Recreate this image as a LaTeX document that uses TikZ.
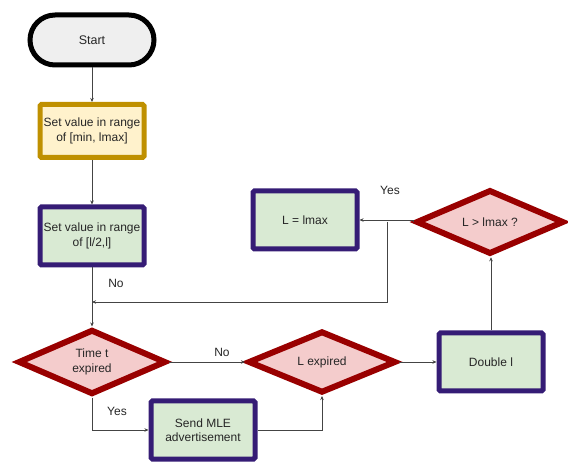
\documentclass[tikz,border=0pt]{standalone}
\usepackage{fontspec}
\setmainfont{Liberation Sans}
\usetikzlibrary{shapes.geometric,arrows.meta}
\definecolor{gold}{HTML}{BF9000}
\definecolor{goldfill}{HTML}{FFF2CC}
\definecolor{purp}{HTML}{351C75}
\definecolor{greenfill}{HTML}{D9EAD3}
\definecolor{dred}{HTML}{990000}
\definecolor{redfill}{HTML}{F4CCCC}
\definecolor{startfill}{HTML}{EFEFEF}
\definecolor{txt}{HTML}{262626}
\definecolor{conn}{HTML}{444444}
\tikzset{
  base/.style={font=\fontsize{12}{14.5}\selectfont, text=txt, align=center, inner sep=2pt},
  startbox/.style={base, draw=black, fill=startfill, line width=5pt, rounded corners=25pt,
    minimum width=124pt, minimum height=50pt, font=\fontsize{12.5}{15}\selectfont},
  goldbox/.style={base, draw=gold, fill=goldfill, line width=5pt, rounded corners=1.5pt,
    minimum width=104pt, minimum height=53pt},
  greenbox/.style={base, draw=purp, fill=greenfill, line width=5pt, rounded corners=1.5pt,
    minimum width=104pt, minimum height=58pt},
  decide/.style={base, diamond, draw=dred, fill=redfill, line width=6pt,
    minimum width=148pt, minimum height=62pt, inner sep=0pt},
  conn/.style={draw=conn, line width=0.8pt, -{Stealth[length=4pt,width=3.5pt]}},
  lbl/.style={font=\fontsize{12}{14}\selectfont, text=txt, inner sep=0pt}
}
\begin{document}
\begin{tikzpicture}[x=1pt,y=-1pt]
\useasboundingbox (0,0) rectangle (568,462);
\node[startbox] (start) at (92,40) {Start};
\node[goldbox] (set1) at (92,131) {Set value in range\\of [min, lmax]};
\node[greenbox] (set2) at (92,236) {Set value in range\\of [l/2,l]};
\node[decide] (time) at (92,362) {Time t\\expired};
\node[decide] (lexp) at (322,362) {L expired};
\node[greenbox] (dbl) at (491,362) {Double l};
\node[decide] (lgt) at (490,222) {L > lmax ?};
\node[greenbox] (lmax) at (305,220) {L = lmax};
\node[greenbox] (send) at (203,430) {Send MLE\\advertisement};

\coordinate (j1) at (387,222);
\coordinate (j2) at (92,302);

\draw[conn] (start) -- (set1);
\draw[conn] (set1) -- (set2);
\draw[conn] (set2) -- (time);
\draw[conn] (lgt.west) -- (lmax.east -| lgt.west) -- (lmax.east);
\draw[conn] (j1) |- (j2);
\draw[conn] (time.east) -- (lexp.west);
\draw[conn] (lexp.east) -- (dbl.west);
\draw[conn] (dbl.north) -- (dbl.north |- lgt.south);
\draw[conn] (time.south) |- (send.west);
\draw[conn] (send.east) -| (lexp.south);

\node[lbl] (no1) at (116,283) {No};
\node[lbl] (no2) at (222,352) {No};
\node[lbl] (yes1) at (390,190) {Yes};
\node[lbl] (yes2) at (117,411) {Yes};
\end{tikzpicture}
\end{document}
